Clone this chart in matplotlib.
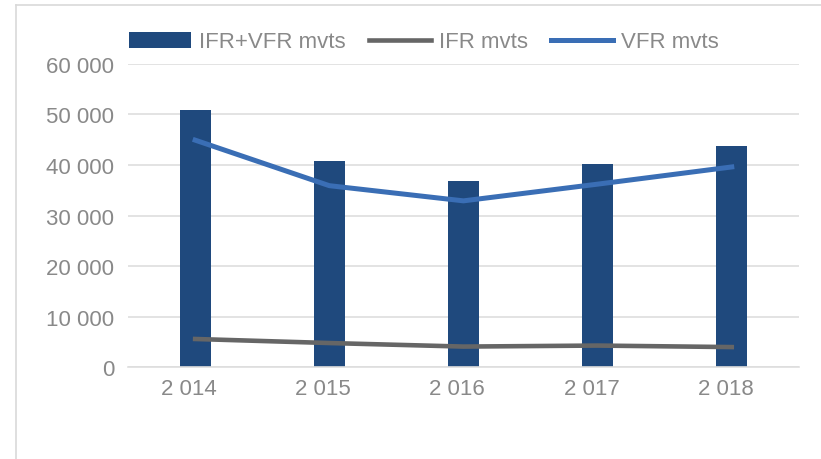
#! /usr/bin/env python3
import numpy as np
import matplotlib
matplotlib.use("Agg")
import matplotlib.pyplot as plt
from matplotlib import ticker
from matplotlib.lines import Line2D

# movements per year
years = ["2 014", "2 015", "2 016", "2 017", "2 018"]
total_mvts = [50850, 40800, 36800, 40200, 43700]
ifr_mvts = [5600, 4800, 4100, 4300, 4000]
vfr_mvts = [44900, 35900, 32900, 36200, 39600]

plt.rcParams["font.family"] = ["Liberation Sans", "DejaVu Sans"]
text_color = "#898989"

fig = plt.figure(figsize=(8.21, 4.60), dpi=100)
ax = fig.add_axes([0.156, 0.1993, 0.817, 0.6600])

x = np.arange(len(years))
bars = ax.bar(x, total_mvts, width=0.23, color="#1f497d", label="IFR+VFR mvts", zorder=2)
ifr_line, = ax.plot(x, ifr_mvts, color="#666666", lw=3.3, label="IFR mvts", zorder=3)
vfr_line, = ax.plot(x, vfr_mvts, color="#3a6eb5", lw=3.6, label="VFR mvts", zorder=3)

ax.set_xlim(-0.5, len(years) - 0.5)
ax.set_ylim(0, 60000)
ax.yaxis.set_major_locator(ticker.MultipleLocator(10000))
ax.yaxis.set_major_formatter(ticker.FuncFormatter(lambda v, _: f"{int(v):,}".replace(",", " ")))
ax.set_xticks(x)
ax.set_xticklabels([y + "\u00a0\u00a0" for y in years])

ax.grid(axis="y", color="#dedede", lw=1.2, zorder=0)
for s in ["top", "right", "left"]:
    ax.spines[s].set_visible(False)
ax.spines["bottom"].set_color("#dedede")
ax.spines["bottom"].set_linewidth(1.2)
ax.tick_params(axis="y", length=0, pad=10, labelsize=16, labelcolor=text_color)
ax.tick_params(axis="x", length=0, pad=8, labelsize=16, labelcolor=text_color)

leg_y = (460 - 43) / 460
ax.legend(handles=[bars, ifr_line, vfr_line], loc="center",
          bbox_to_anchor=(424 / 821, leg_y), bbox_transform=fig.transFigure,
          ncol=3, frameon=False, fontsize=16, labelcolor=text_color,
          handlelength=2.8, handletextpad=0.35, columnspacing=1.05)

# chart frame (left and top edges only are visible)
fig.add_artist(Line2D([16 / 821, 16 / 821], [0, 1 - 6 / 460], color="#d9d9d9", lw=1.2))
fig.add_artist(Line2D([16 / 821, 1], [1 - 6 / 460, 1 - 6 / 460], color="#d9d9d9", lw=1.2))

fig.savefig("out.png", dpi=100)
